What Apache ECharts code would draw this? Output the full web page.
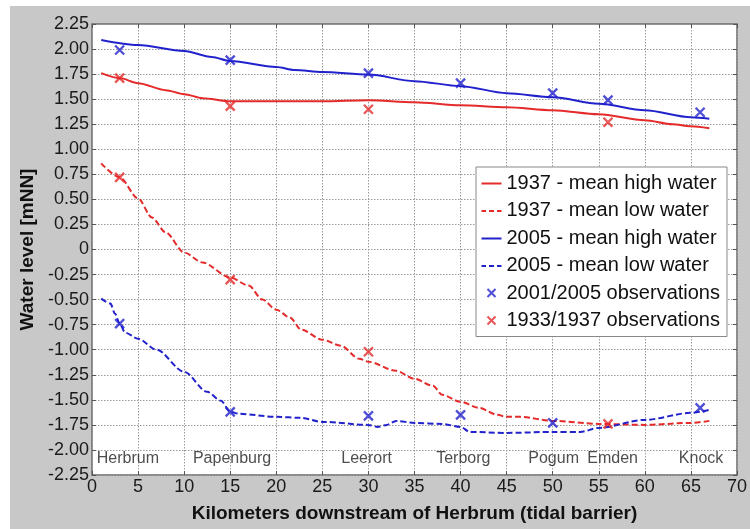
<!DOCTYPE html>
<html>
<head>
<meta charset="utf-8">
<script src="https://cdn.jsdelivr.net/npm/echarts@6/dist/echarts.min.js"></script>
<style>
  html, body { margin: 0; padding: 0; background: #ffffff; }
  #chart { width: 750px; height: 529px; }
</style>
</head>
<body>
<div id="chart"></div>
<script>
// Water levels along the Ems (m above NN) versus distance below the Herbrum weir
const mhw1937Km = [1, 3, 5, 8, 10, 12, 15, 20, 25, 30, 35, 40, 45, 50, 55, 60, 63, 65, 67];
const mhw1937   = [1.76, 1.71, 1.66, 1.59, 1.55, 1.51, 1.48, 1.48, 1.48, 1.49, 1.47, 1.44, 1.42, 1.39, 1.35, 1.29, 1.25, 1.23, 1.21];

const mlw1937Km = [1, 3, 5, 6.5, 8, 10, 12, 15, 17, 18.5, 20, 21.5, 22.7, 25, 27, 29, 30, 33, 35, 37, 38, 40, 42, 44, 45, 46.5, 50, 55, 60, 65, 67];
const mlw1937   = [0.86, 0.72, 0.51, 0.32, 0.17, -0.03, -0.13, -0.28, -0.36, -0.50, -0.60, -0.68, -0.80, -0.90, -0.96, -1.09, -1.12, -1.21, -1.29, -1.36, -1.45, -1.52, -1.58, -1.65, -1.67, -1.67, -1.71, -1.74, -1.75, -1.73, -1.71];

const mhw2005Km = [1, 5, 10, 13, 15, 20, 22, 25, 30, 35, 40, 45, 50, 55, 60, 65, 67];
const mhw2005   = [2.09, 2.04, 1.98, 1.92, 1.88, 1.82, 1.79, 1.77, 1.745, 1.68, 1.63, 1.56, 1.52, 1.455, 1.39, 1.32, 1.305];

const mlw2005Km = [1, 2, 2.5, 3, 3.6, 5, 7, 10, 12.5, 14, 15, 16, 20, 22.7, 25, 30, 31, 32, 33, 35, 38, 40, 41, 45, 50, 53, 55, 60, 65, 67];
const mlw2005   = [-0.49, -0.54, -0.64, -0.74, -0.83, -0.89, -1.00, -1.22, -1.42, -1.51, -1.62, -1.64, -1.67, -1.68, -1.72, -1.75, -1.77, -1.75, -1.71, -1.73, -1.74, -1.77, -1.82, -1.83, -1.82, -1.82, -1.78, -1.70, -1.63, -1.60];

const obs2005Km = [3, 15, 30, 40, 50, 56, 66, 3, 15, 30, 40, 50, 66];
const obs2005   = [1.99, 1.89, 1.76, 1.66, 1.56, 1.49, 1.37, -0.74, -1.62, -1.66, -1.65, -1.73, -1.58];

const obs1937Km = [3, 15, 30, 56, 3, 15, 30, 56];
const obs1937   = [1.71, 1.43, 1.40, 1.27, 0.72, -0.30, -1.02, -1.74];

const townNames = ['Herbrum', 'Papenburg', 'Leerort', 'Terborg', 'Pogum', 'Emden', 'Knock'];
const townKm    = [3.9, 15.2, 29.8, 40.3, 50.1, 56.5, 66.1];
const townRowLevel = -2.09;

const seriesNames = [
  '1937 - mean high water',
  '1937 - mean low water',
  '2005 - mean high water',
  '2005 - mean low water',
  '2001/2005 observations',
  '1933/1937 observations'
];

const RED = '#e42a2a';
const BLUE = '#2222cc';
const FONT = '"Liberation Sans", Arial, sans-serif';
const CROSS = 'path://M0,0L10,10M10,0L0,10';

// Legend keys drawn inside a 20x14 box (the leading moves pin the box size)
const KEY_SOLID  = 'path://M0,0M20,14M0,6.5H20V8.5H0Z';
const KEY_DASHED = 'path://M0,0M20,14M0,6.5H4.5V8.5H0ZM7.5,6.5H12.5V8.5H7.5ZM15.5,6.5H20V8.5H15.5Z';
const KEY_CROSS  = 'path://M0,0M20,14M6,3L14,11M14,3L6,11';

const pairs = (xs, ys) => xs.map((x, i) => [x, ys[i]]);

function lineSeries(name, xs, ys, color, dashed) {
  return {
    name, type: 'line', data: pairs(xs, ys),
    smooth: 0.3, smoothMonotone: 'x', showSymbol: false, symbol: 'none',
    lineStyle: { color, width: 2, type: dashed ? [6, 3] : 'solid' },
    itemStyle: { color },
    z: 3, silent: true
  };
}

function obsSeries(name, xs, ys, color) {
  return {
    name, type: 'scatter', data: pairs(xs, ys),
    symbol: CROSS, symbolSize: 9,
    itemStyle: { color: 'none', borderColor: color, borderWidth: 2.3 },
    z: 5, silent: true
  };
}

const chart = echarts.init(document.getElementById('chart'), null, { renderer: 'canvas' });

const axisCommon = {
  type: 'value',
  axisLine: { show: false, onZero: false },
  splitLine: { show: true, lineStyle: { color: '#9a9a9a', type: [1.5, 1.5], width: 1 } },
  axisTick: { show: true, inside: true, length: 4, lineStyle: { color: '#555' } },
  axisLabel: { color: '#1a1a1a', fontFamily: FONT, fontSize: 18 }
};

chart.setOption({
  animation: false,
  backgroundColor: 'transparent',
  graphic: [{
    type: 'rect', left: 10, top: 6, z: -10,
    shape: { width: 740, height: 523 },
    style: { fill: '#c8c8c8' }
  }],
  grid: {
    left: 92, right: 12, top: 24, bottom: 54,
    show: true, backgroundColor: '#ffffff', borderColor: '#6a6a6a', borderWidth: 1.5
  },
  xAxis: [
    Object.assign({}, axisCommon, {
      min: 0, max: 70, interval: 5, position: 'bottom',
      axisLabel: Object.assign({}, axisCommon.axisLabel, { margin: 3 }),
      name: 'Kilometers downstream of Herbrum (tidal barrier)',
      nameLocation: 'middle', nameGap: 29,
      nameTextStyle: { fontFamily: FONT, fontSize: 19, fontWeight: 'bold', color: '#111' }
    }),
    Object.assign({}, axisCommon, {
      min: 0, max: 70, interval: 5, position: 'top',
      axisLabel: { show: false }, splitLine: { show: false }
    })
  ],
  yAxis: [
    Object.assign({}, axisCommon, {
      min: -2.25, max: 2.25, interval: 0.25, position: 'left',
      axisLabel: Object.assign({}, axisCommon.axisLabel, {
        margin: 3,
        formatter: v => (Math.abs(v) < 1e-9 ? '0' : v.toFixed(2))
      }),
      name: 'Water level [mNN]',
      nameLocation: 'middle', nameRotate: 90, nameGap: 47,
      nameTextStyle: { fontFamily: FONT, fontSize: 19, fontWeight: 'bold', color: '#111' }
    }),
    Object.assign({}, axisCommon, {
      min: -2.25, max: 2.25, interval: 0.25, position: 'right',
      axisLabel: { show: false }, splitLine: { show: false }
    })
  ],
  legend: {
    orient: 'vertical', left: 476, top: 167,
    padding: [5, 7, 5, 3],
    itemWidth: 20, itemHeight: 14, itemGap: 5.5,
    backgroundColor: '#ffffff', borderColor: '#888888', borderWidth: 1, borderRadius: 0,
    textStyle: { fontFamily: FONT, fontSize: 20, color: '#111', lineHeight: 22 },
    data: [
      { name: seriesNames[0], icon: KEY_SOLID },
      { name: seriesNames[1], icon: KEY_DASHED },
      { name: seriesNames[2], icon: KEY_SOLID },
      { name: seriesNames[3], icon: KEY_DASHED },
      { name: seriesNames[4], icon: KEY_CROSS },
      { name: seriesNames[5], icon: KEY_CROSS }
    ],
    selectedMode: false
  },
  series: [
    lineSeries(seriesNames[0], mhw1937Km, mhw1937, RED, false),
    lineSeries(seriesNames[1], mlw1937Km, mlw1937, RED, true),
    lineSeries(seriesNames[2], mhw2005Km, mhw2005, BLUE, false),
    lineSeries(seriesNames[3], mlw2005Km, mlw2005, BLUE, true),
    obsSeries(seriesNames[4], obs2005Km, obs2005, BLUE),
    obsSeries(seriesNames[5], obs1937Km, obs1937, RED),
    {
      name: 'towns', type: 'scatter', silent: true, z: 4,
      symbolSize: 1, itemStyle: { color: 'rgba(0,0,0,0)' },
      data: townNames.map((n, i) => ({ name: n, value: [townKm[i], townRowLevel] })),
      label: {
        show: true, position: 'inside', formatter: p => p.name,
        fontFamily: FONT, fontSize: 16, color: '#222'
      }
    }
  ]
});
</script>
</body>
</html>
